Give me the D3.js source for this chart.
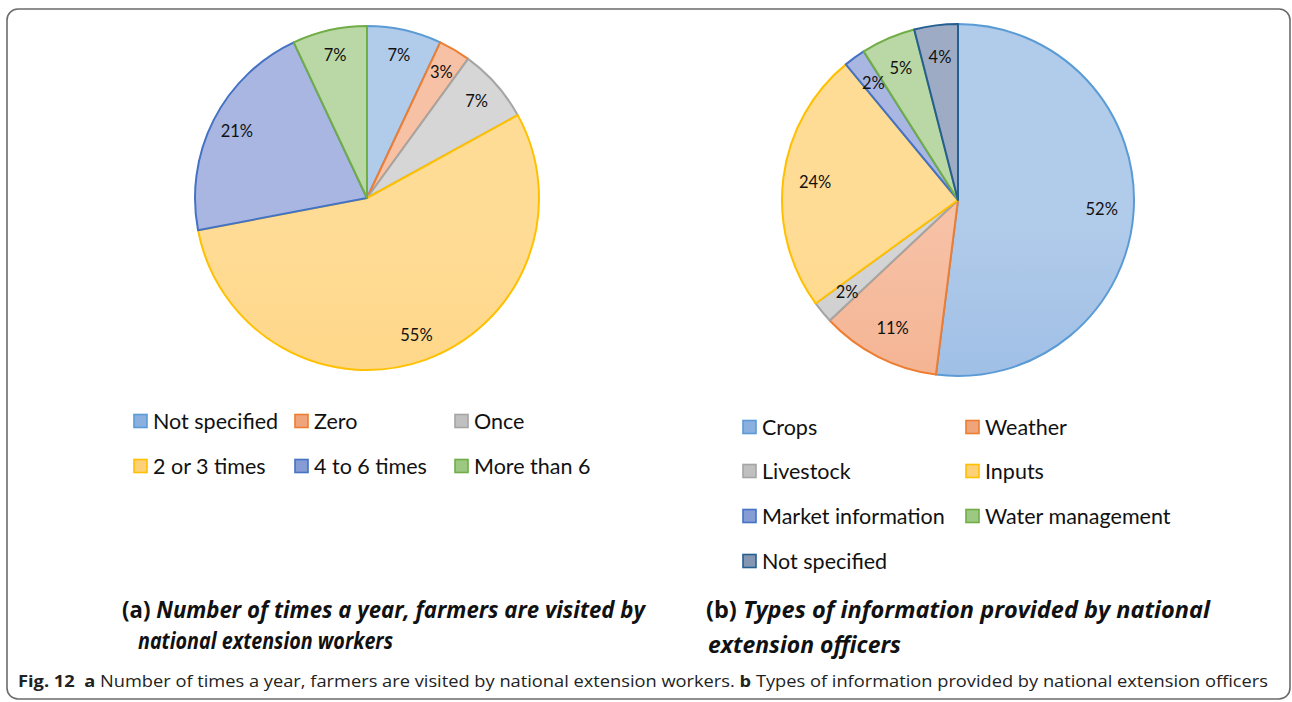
<!DOCTYPE html>
<html><head><meta charset="utf-8">
<script src="https://cdn.jsdelivr.net/npm/d3@7"></script>
<style>html,body{margin:0;padding:0;background:#fff;}svg{display:block;}</style>
</head><body>
<script>
// ---- data ----
const catsA = ["Not specified", "Zero", "Once", "2 or 3 times", "4 to 6 times", "More than 6"];
const valsA = [7, 3, 7, 55, 21, 7];
const catsB = ["Crops", "Weather", "Livestock", "Inputs", "Market information", "Water management", "Not specified"];
const valsB = [52, 11, 2, 24, 2, 5, 4];
const titleA = ["(a)", " Number of times a year, farmers are visited  by", "national extension workers"];
const titleB = ["(b)", " Types of information provided by national", "extension officers"];
const captionParts = [["Fig. 12", true], ["  a", true], [" Number of times a year, farmers are visited by national extension workers. ", false], ["b", true], [" Types of information provided by national extension officers", false]];

// Excel palette: stroke, light fill, dark fill
const strokes = ["#5B9BD5", "#ED7D31", "#A5A5A5", "#FFC000", "#4472C4", "#70AD47", "#255E91"];
const lights  = ["#b1cbea", "#f7c1a6", "#d6d6d6", "#ffdc96", "#a9b6e1", "#b9d8a5", "#9dacc4"];
const darks   = ["#8ab0e0", "#f0a47c", "#c0c0c0", "#fed077", "#859cd4", "#9cc882", "#8496b2"];

const W = 1292, H = 702;
const svg = d3.select("body").append("svg").attr("width", W).attr("height", H);
const defs = svg.append("defs");

svg.append("rect").attr("x", 7).attr("y", 9).attr("width", 1283).attr("height", 690)
  .attr("rx", 11).attr("fill", "none").attr("stroke", "#6b6b6b").attr("stroke-width", 1.6);

const chartFont = "Lato, 'Open Sans', sans-serif";

function drawPie(id, cats, vals, cx, cy, R, labelR) {
  strokes.forEach((c, i) => {
    const g = defs.append("linearGradient").attr("id", id + "g" + i)
      .attr("gradientUnits", "userSpaceOnUse")
      .attr("x1", cx).attr("x2", cx).attr("y1", cy - R).attr("y2", cy + R);
    g.append("stop").attr("offset", "0%").attr("stop-color", lights[i]);
    g.append("stop").attr("offset", "100%").attr("stop-color", darks[i]);
  });
  const pie = d3.pie().sort(null).value(d => d);
  const arcs = pie(vals);
  const arc = d3.arc().innerRadius(0).outerRadius(R);
  const lab = d3.arc().innerRadius(labelR).outerRadius(labelR);
  const g = svg.append("g").attr("transform", `translate(${cx},${cy})`);
  g.selectAll("path").data(arcs).join("path")
    .attr("d", arc)
    .attr("fill", (d, i) => `url(#${id}g${i})`)
    .attr("stroke", (d, i) => strokes[i])
    .attr("stroke-width", 2)
    .attr("stroke-linejoin", "round");
  g.selectAll("text").data(arcs).join("text")
    .attr("transform", d => `translate(${lab.centroid(d)})`)
    .attr("text-anchor", "middle").attr("dy", "0.35em")
    .attr("font-family", chartFont).attr("font-size", 16.5).attr("fill", "#111")
    .text(d => d.data + "%");
}

drawPie("a", catsA, valsA, 367, 198, 172, 146);
drawPie("b", catsB, valsB, 958, 200, 176, 144);

// legend swatch gradients
strokes.forEach((c, i) => {
  const g = defs.append("linearGradient").attr("id", "ag" + i).attr("x1", 0).attr("x2", 0).attr("y1", 0).attr("y2", 1);
  g.append("stop").attr("offset", "0%").attr("stop-color", lights[i]);
  g.append("stop").attr("offset", "100%").attr("stop-color", darks[i]);
});

function drawLegend(cats, xs, ys, ncol) {
  const g = svg.append("g");
  cats.forEach((c, i) => {
    const x = xs[i % ncol], y = ys[Math.floor(i / ncol)];
    g.append("rect").attr("x", x).attr("y", y - 6.5).attr("width", 13).attr("height", 13)
      .attr("fill", `url(#ag${i})`).attr("stroke", strokes[i]).attr("stroke-width", 1.6);
    g.append("text").attr("x", x + 19).attr("y", y).attr("dy", "0.35em")
      .attr("font-family", chartFont).attr("font-size", 21.5).attr("fill", "#111").text(c);
  });
}
drawLegend(catsA, [134, 295, 455], [421, 466], 3);
drawLegend(catsB, [743, 966], [427, 471, 516, 561], 2);

function drawTitle(t, x1, y1, x2, y2, w1, w2) {
  const tf = "'Open Sans', sans-serif";
  const t1 = svg.append("text").attr("x", x1).attr("y", y1)
    .attr("font-family", tf).attr("font-size", 23).attr("font-weight", "bold").attr("fill", "#111")
    .attr("textLength", w1).attr("lengthAdjust", "spacingAndGlyphs");
  t1.append("tspan").text(t[0]);
  t1.append("tspan").attr("font-style", "italic").text(t[1]);
  svg.append("text").attr("x", x2).attr("y", y2)
    .attr("font-family", tf).attr("font-size", 23).attr("font-weight", "bold").attr("font-style", "italic").attr("fill", "#111")
    .attr("textLength", w2).attr("lengthAdjust", "spacingAndGlyphs").text(t[2]);
}
drawTitle(titleA, 122, 618, 138, 649, 523, 255);
drawTitle(titleB, 706, 618, 708, 653, 504, 193);

const cap = svg.append("text").attr("x", 18).attr("y", 687)
  .attr("font-family", "'Open Sans', sans-serif").attr("font-size", 16.5).attr("fill", "#222")
  .attr("textLength", 1250).attr("lengthAdjust", "spacingAndGlyphs").attr("xml:space", "preserve");
captionParts.forEach(([s, b]) => cap.append("tspan").attr("font-weight", b ? "bold" : "normal").text(s));
</script>
</body></html>
